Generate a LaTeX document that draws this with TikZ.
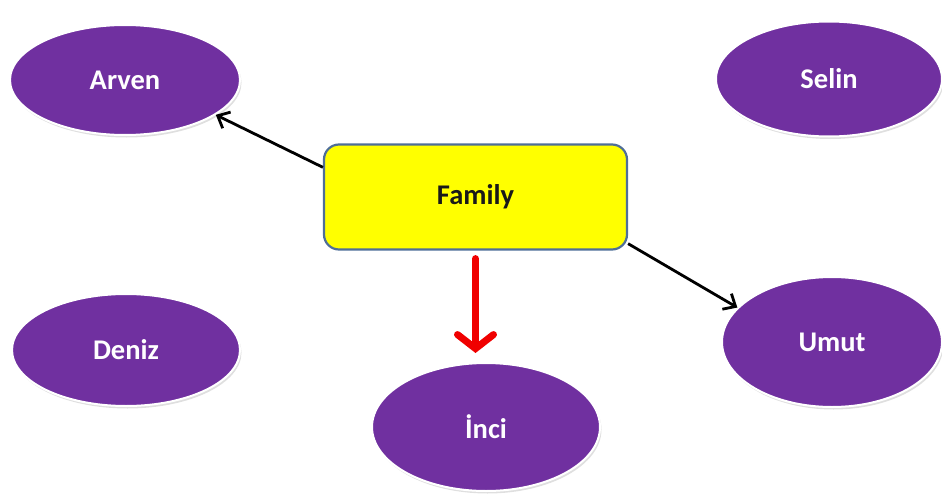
\documentclass[tikz,border=0pt]{standalone}
\usepackage{fontspec}
\setmainfont{Carlito}
\usetikzlibrary{shapes.geometric,arrows.meta,shadows}
\definecolor{member}{HTML}{7030A0}
\definecolor{boxline}{HTML}{4F6E98}
\definecolor{boxfill}{RGB}{255,255,0}
\definecolor{linkred}{RGB}{240,0,0}
\tikzset{
  person/.style={ellipse, fill=member, draw=white, line width=2pt, inner sep=0pt,
    text=white, font=\fontsize{28.5}{32}\selectfont\bfseries,
    drop shadow={opacity=0.25, shadow xshift=1.5pt, shadow yshift=-2.5pt}},
  hub/.style={rectangle, rounded corners=15pt, fill=boxfill, draw=boxline, line width=2.2pt,
    minimum width=303pt, minimum height=105pt, text=black!90,
    font=\fontsize{28.5}{32}\selectfont\bfseries},
  link/.style={draw=black, line width=2.8pt, -{Straight Barb[length=10pt,width=18pt]}},
  mainlink/.style={draw=linkred, line width=7pt, line cap=round,
    -{Straight Barb[length=14pt,width=36pt,line cap=round]}}
}
\begin{document}
\begin{tikzpicture}[x=1pt,y=-1pt]
  \useasboundingbox (0,0) rectangle (942,495);
  \node[person, minimum width=230pt, minimum height=110pt] (arven) at (125,80) {Arven};
  \node[person, minimum width=226pt, minimum height=115pt] (selin) at (829,79) {Selin};
  \node[person, minimum width=228pt, minimum height=112pt] (deniz) at (126,350) {Deniz};
  \node[person, minimum width=228pt, minimum height=128pt] (inci) at (486,427) {İnci};
  \node[person, minimum width=220pt, minimum height=130pt] (umut) at (832,342) {Umut};
  \node[hub] (family) at (475.5,197) {Family};
  \draw[link] (family.169) -- (arven.339);
  \draw[link] (family.343) -- (umut.160.3);
  \draw[mainlink, shorten <=8pt, shorten >=9pt] (family.south) -- (family.south |- inci.north);
\end{tikzpicture}
\end{document}
